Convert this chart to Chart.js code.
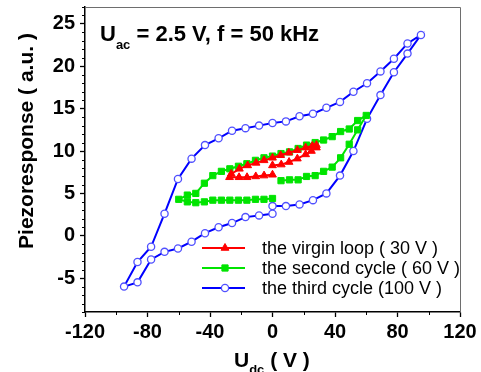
<!DOCTYPE html>
<html>
<head>
<meta charset="utf-8">
<script src="https://cdn.jsdelivr.net/npm/chart.js@4"></script>
<style>
  html, body { margin: 0; padding: 0; background: #fff; }
  canvas { display: block; }
</style>
</head>
<body>
<canvas id="loopChart" width="481" height="372"></canvas>
<script>
// the virgin loop (30 V): starts at 0, up to +max, down to -max, back to 0
const virginX = [0, 5.6, 10.6, 15.9, 21.2, 24.9, 28.1, 28.1, 25.5, 21.2, 15.9, 10.4, 5.2, 0, -5.4, -10.5, -15.9, -21.2, -26.4, -27.5, -21.4, -16.3, -10.7, -5.4, 0]
const virginY = [8.3, 8.4, 8.7, 9.1, 9.6, 10.0, 10.4, 10.7, 10.6, 10.4, 10.1, 9.8, 9.5, 9.2, 8.9, 8.6, 8.3, 7.9, 7.3, 6.9, 6.9, 6.9, 7.0, 7.1, 7.2]

// the second cycle (60 V)
const secondX = [5.45, 10.9, 16.4, 21.8, 27.3, 32.7, 38.2, 43.6, 49.1, 54.5, 60, 54.5, 49.1, 43.6, 38.2, 32.7, 27.3, 21.8, 16.4, 10.9, 5.45, 0, -5.45, -10.9, -16.4, -21.8, -27.3, -32.7, -38.2, -43.6, -49.1, -54.5, -60, -54.5, -49.1, -43.6, -38.2, -32.7, -27.3, -21.8, -16.4, -10.9, -5.45, 0]
const secondY = [6.5, 6.6, 6.6, 7.0, 7.1, 7.6, 8.1, 9.2, 10.8, 12.5, 14.2, 13.6, 12.6, 12.3, 11.7, 11.3, 11.0, 10.7, 10.3, 9.9, 9.7, 9.4, 9.2, 8.9, 8.5, 8.2, 7.9, 7.6, 7.1, 6.2, 5.0, 4.8, 4.3, 4.0, 3.9, 4.0, 4.2, 4.2, 4.2, 4.2, 4.2, 4.3, 4.3, 4.4]

// the third cycle (100 V)
const thirdX = [0, 8.6, 17.3, 25.9, 34.5, 43.2, 51.8, 60.5, 69.1, 77.7, 86.4, 95, 86.4, 77.7, 69.1, 60.5, 51.8, 43.2, 34.5, 25.9, 17.3, 8.6, 0, -8.6, -17.3, -25.9, -34.5, -43.2, -51.8, -60.5, -69.1, -77.7, -86.4, -95, -86.4, -77.7, -69.1, -60.5, -51.8, -43.2, -34.5, -25.9, -17.3, -8.6, 0]
const thirdY = [3.5, 3.5, 3.7, 4.2, 5.0, 7.1, 10.0, 13.8, 16.6, 19.3, 21.5, 23.7, 22.7, 20.9, 19.4, 18.0, 17.0, 15.8, 15.1, 14.4, 14.1, 13.5, 13.3, 13.0, 12.7, 12.4, 11.5, 10.7, 9.1, 6.7, 2.6, -1.3, -3.1, -6.0, -5.5, -2.8, -1.9, -1.5, -0.7, 0.3, 1.0, 1.5, 2.2, 2.4, 2.6]

const seriesLabels = ["the virgin loop ( 30 V )", "the second cycle ( 60 V )", "the third cycle (100 V )"]
const xMinorTicks = [-100, -60, -20, 20, 60, 100]

const FONT = "'Liberation Sans', Arial, sans-serif"
Chart.defaults.font.family = FONT

/**
 * @brief zips x and y arrays into {x, y} points
 */
const toPoints = (xs, ys) => xs.map((x, i) => ({ x: x, y: ys[i] }))

/**
 * @brief draws text with a subscript part: main, sub, rest
 */
const drawSubText = (ctx, x, y, main, sub, rest, size, subSize, subDrop) => {
  ctx.font = `bold ${size}px ${FONT}`
  ctx.fillText(main, x, y)
  x += ctx.measureText(main).width
  ctx.font = `bold ${subSize}px ${FONT}`
  ctx.fillText(sub, x, y + subDrop)
  x += ctx.measureText(sub).width
  ctx.font = `bold ${size}px ${FONT}`
  ctx.fillText(rest, x, y)
}

// frame, minor ticks, titles, note and legend
const decorPlugin = {
  id: "decor",
  afterDraw(chart) {
    const ctx = chart.ctx
    const area = chart.chartArea
    const xs = chart.scales.x
    const ys = chart.scales.y
    ctx.save()

    // top and right frame
    ctx.strokeStyle = "#6e6e6e"
    ctx.lineWidth = 1
    ctx.beginPath()
    ctx.moveTo(area.left, area.top + 0.5)
    ctx.lineTo(area.right + 0.5, area.top + 0.5)
    ctx.lineTo(area.right + 0.5, area.bottom)
    ctx.stroke()

    // minor ticks
    ctx.strokeStyle = "#000"
    ctx.lineWidth = 1
    ctx.beginPath()
    for (let v = Math.ceil(ys.min); v <= ys.max; v++) {
      if (v % 5 === 0) continue
      const py = Math.round(ys.getPixelForValue(v)) + 0.5
      ctx.moveTo(area.left - 3, py)
      ctx.lineTo(area.left, py)
    }
    xMinorTicks.forEach((v) => {
      const px = Math.round(xs.getPixelForValue(v)) + 0.5
      ctx.moveTo(px, area.bottom)
      ctx.lineTo(px, area.bottom + 3)
    })
    ctx.stroke()

    ctx.fillStyle = "#000"
    ctx.textBaseline = "alphabetic"
    ctx.textAlign = "left"

    // note in the upper left corner
    drawSubText(ctx, 100, 41, "U", "ac", " = 2.5 V, f = 50 kHz", 22, 13, 8)

    // x title
    drawSubText(ctx, 234, 367, "U", "dc", " ( V )", 21, 13, 7)

    // y title
    ctx.save()
    ctx.translate(33, 141)
    ctx.rotate(-Math.PI / 2)
    ctx.textAlign = "center"
    ctx.font = `bold 21px ${FONT}`
    ctx.fillText("Piezoresponse ( a.u. )", 0, 0)
    ctx.restore()

    // legend
    chart.data.datasets.forEach((ds, i) => {
      const y = 248 + i * 20
      ctx.strokeStyle = ds.borderColor
      ctx.lineWidth = 2
      ctx.beginPath()
      ctx.moveTo(202, y)
      ctx.lineTo(245, y)
      ctx.stroke()
      ctx.fillStyle = ds.pointBackgroundColor
      ctx.strokeStyle = ds.pointBorderColor
      ctx.lineWidth = ds.pointBorderWidth
      Chart.helpers.drawPoint(ctx, {
        pointStyle: ds.pointStyle,
        radius: ds.pointRadius,
        rotation: 0,
        borderWidth: ds.pointBorderWidth,
      }, 225, y)
      ctx.fillStyle = "#000"
      ctx.font = `18px ${FONT}`
      ctx.textBaseline = "middle"
      ctx.fillText(ds.label, 262, y + 1)
    })

    ctx.restore()
  },
}

const axisTicks = {
  color: "#000",
  font: { size: 20, weight: "bold" },
  maxRotation: 0,
  autoSkip: false,
}

const canvas = document.getElementById("loopChart")

new Chart(canvas.getContext("2d"), {
  type: "line",
  data: {
    datasets: [
      {
        label: seriesLabels[0],
        data: toPoints(virginX, virginY),
        borderColor: "#ff0000",
        borderWidth: 2,
        pointStyle: "triangle",
        pointRadius: 4.5,
        pointBackgroundColor: "#ff0000",
        pointBorderColor: "#ff0000",
        pointBorderWidth: 1,
      },
      {
        label: seriesLabels[1],
        data: toPoints(secondX, secondY),
        borderColor: "#00e400",
        borderWidth: 2,
        pointStyle: "rect",
        pointRadius: 4.4,
        pointBackgroundColor: "#00e400",
        pointBorderColor: "#00e400",
        pointBorderWidth: 1,
      },
      {
        label: seriesLabels[2],
        data: toPoints(thirdX, thirdY),
        borderColor: "#0000ff",
        borderWidth: 2,
        pointStyle: "circle",
        pointRadius: 3.6,
        pointBackgroundColor: "#ffffff",
        pointBorderColor: "#5050ff",
        pointBorderWidth: 1.3,
      },
    ],
  },
  options: {
    responsive: false,
    animation: false,
    devicePixelRatio: 1,
    events: [],
    layout: { padding: { top: 7, right: 21, left: 0, bottom: 0 } },
    elements: { line: { tension: 0 } },
    scales: {
      x: {
        type: "linear",
        min: -120,
        max: 120,
        ticks: { ...axisTicks, stepSize: 40, padding: 3 },
        grid: { drawOnChartArea: false, tickLength: 5, color: "#000", tickWidth: 1.3 },
        border: { color: "#000", width: 1.5 },
        afterFit: (s) => {
          s.height = 60
          s.paddingLeft = 0
          s.paddingRight = 0
        },
      },
      y: {
        type: "linear",
        min: -9,
        max: 27,
        ticks: { ...axisTicks, stepSize: 5, padding: 5, includeBounds: false },
        grid: { drawOnChartArea: false, tickLength: 5, color: "#000", tickWidth: 1.3 },
        border: { color: "#000", width: 1.5 },
        afterFit: (s) => {
          s.width = 85
          s.paddingTop = 0
          s.paddingBottom = 0
        },
      },
    },
    plugins: {
      legend: { display: false },
      tooltip: { enabled: false },
    },
  },
  plugins: [decorPlugin],
})
</script>
</body>
</html>
